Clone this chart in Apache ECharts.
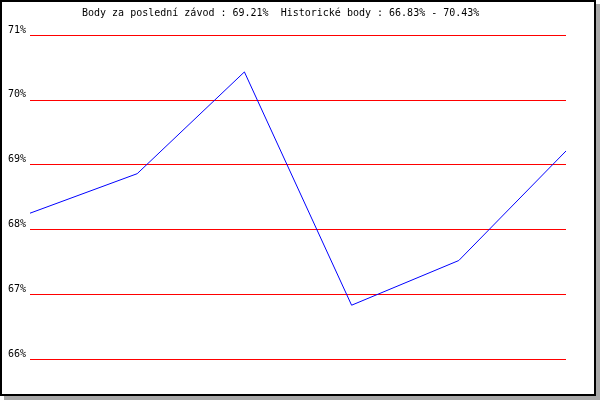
<!DOCTYPE html>
<html>
<head>
<meta charset="utf-8">
<script src="https://cdn.jsdelivr.net/npm/echarts@6/dist/echarts.min.js"></script>
<style>
  body { margin: 0; background: #fff; }
  .frame {
    position: absolute; left: 0; top: 0;
    width: 592px; height: 392px;
    border: 2px solid #000;
    box-shadow: 4px 4px 0 #a8a8a8;
    background: #fff;
  }
  #chart { position: absolute; left: 0; top: 0; width: 600px; height: 400px; }
</style>
</head>
<body>
<div class="frame"></div>
<div id="chart"></div>
<script>
// races (no labels shown on the axis)
var races = ['1', '2', '3', '4', '5', '6']
var points = [68.25, 68.86, 70.43, 66.83, 67.52, 69.21]
var titleText = 'Body za poslední závod : 69.21%  Historické body : 66.83% - 70.43%'

var chart = echarts.init(document.getElementById('chart'))
chart.setOption({
  animation: false,
  title: {
    text: titleText,
    left: 82,
    top: 8,
    padding: 0,
    textStyle: {
      fontFamily: 'DejaVu Sans Mono',
      fontSize: 10,
      fontWeight: 'normal',
      color: '#000'
    }
  },
  grid: { left: 30, right: 34, top: 35, bottom: 41 },
  xAxis: {
    type: 'category',
    data: races,
    boundaryGap: false,
    axisLine: { show: false },
    axisTick: { show: false },
    axisLabel: { show: false },
    splitLine: { show: false }
  },
  yAxis: {
    type: 'value',
    min: 66,
    max: 71,
    interval: 1,
    axisLine: { show: false },
    axisTick: { show: false },
    axisLabel: {
      formatter: '{value}%',
      margin: 4,
      verticalAlign: 'bottom',
      fontFamily: 'DejaVu Sans Mono',
      fontSize: 10,
      color: '#000'
    },
    splitLine: { lineStyle: { color: '#ff0000', width: 1 } }
  },
  series: [{
    type: 'line',
    data: points,
    showSymbol: false,
    lineStyle: { color: '#0000ff', width: 1 }
  }]
})
</script>
</body>
</html>
